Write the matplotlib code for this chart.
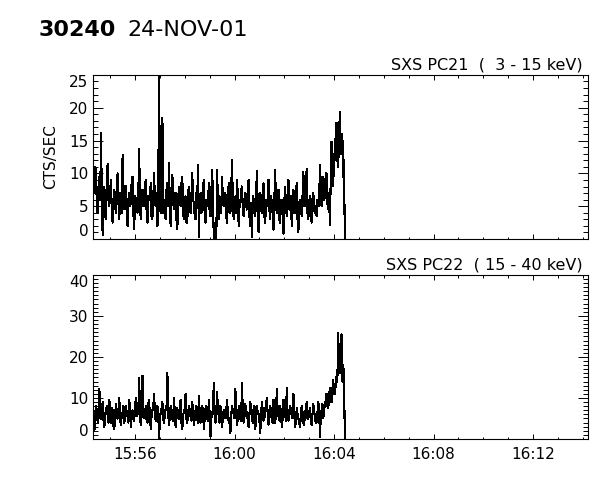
import numpy as np
import matplotlib
matplotlib.use("Agg")
import matplotlib.pyplot as plt
from matplotlib.ticker import MultipleLocator, FuncFormatter

# ---------------- data ----------------
obs_id = "30240"
obs_date = "24-NOV-01"
panel_titles = ["SXS PC21  (  3 - 15 keV)", "SXS PC22  ( 15 - 40 keV)"]
y_label = "CTS/SEC"

start_minute = 954.3          # 15:54:18, minutes since midnight
bin_minutes = 2.0 / 60.0      # 2 s bins
x_range = (954.31, 974.21)    # 15:54:18 .. 16:14:13
x_major_ticks = [956, 960, 964, 968, 972]   # 15:56 .. 16:12
y_ranges = [(0, 25), (0, 40)]
y_major_steps = [5, 10]

pc21 = [12.5, 9, 7, 11, 10, 4.5, 4, 8, 9.5, 6, 16.2, 5, 0.6, 7, 8, 3.5, 3, 9, 11.5, 6,
        5, 7.5, 9, 4, 2.5, 6, 7.5, 5, 4, 8.5, 10, 5.5, 3, 7, 6.5, 4, 12.8, 6, 4.5, 8,
        8, 3.5, 2, 6, 7, 5, 5.5, 9, 9.5, 4, 1.5, 6.5, 6, 5, 4, 7, 13.7, 4.5, 3, 6,
        7.5, 5, 5, 8, 9, 4, 2.5, 6.5, 6, 7, 8.5, 3, 3.5, 6, 10, 5.5, 5, 7, 2, 6,
        27, 5, 4, 6.5, 18.5, 4, 6, 3.5, 3, 7.5, 8.5, 5, 11.6, 4, 2, 6, 9.8, 5.5, 4.5, 7,
        7, 3, 1.5, 6, 8, 5.5, 5, 8.5, 9.5, 4, 3, 6, 6.5, 2.5, 2.5, 7, 8, 5, 4, 6.5,
        10, 6, 5.5, 3.5, 3, 7, 6, 11.3, 0.3, 5.5, 7, 4, 4.5, 8, 9, 3.5, 2.5, 6, 6, 5,
        8.5, 4, 3.5, 7, 10.5, 6, 0, 0, 0, 0, 10.5, 5, 3, 6.5, 6, 4, 9.5, 5.5, 5, 7,
        7, 3.5, 2.5, 6, 8.5, 5, 4, 7.5, 12, 5, 3, 6, 6.5, 4, 9, 6.5, 2, 5, 5.5, 7.5,
        8, 4.5, 3.5, 6, 7, 5, 4.5, 8, 9, 3.5, 2, 5.5, 0.3, 6.5, 6, 4, 3.5, 7, 10.3, 5,
        1, 5.5, 7, 4.5, 4, 7.5, 8.5, 3.5, 2.5, 6, 6, 5, 9, 4.5, 3, 6.5, 5.5, 4, 1.4, 6,
        10.5, 5, 4, 6.5, 7.5, 3, 2.5, 6, 6, 4, 0.8, 5.5, 8, 5, 3.5, 7, 9, 4.5, 5, 6.5,
        2, 5, 7.5, 4, 4, 7, 8.5, 3, 1, 5.5, 6, 4.5, 3.5, 6.5, 10.2, 5, 5, 7.5, 10.7, 4,
        3, 5.5, 6.5, 4, 2.5, 6, 7, 4.5, 4, 5, 3.5, 6, 6, 5, 11.3, 7, 5, 9.5, 9, 6,
        6.5, 10, 10, 5.5, 4.5, 7, 2.1, 9, 14.8, 11, 8, 13, 12, 16, 17.7, 12, 11, 15, 19.4, 13,
        13.5, 16, 9.5, 12, 0]

pc22 = [10.3, 6, 2.2, 5, 8, 7, 4, 6.5, 12.2, 5, 5, 7, 9, 4.5, 3, 6, 7, 8, 5.5, 4,
        9.5, 6, 4, 7.5, 7, 3, 2.5, 6, 8.5, 5.5, 5, 7, 10, 4.5, 3.5, 6, 6.5, 8, 4, 5.5,
        8, 6.5, 5.5, 4, 9.5, 7, 3, 6, 7, 5, 4.5, 8, 10, 5.5, 6, 7, 14.9, 5, 3.5, 6,
        15.4, 7, 5, 6, 8, 4.5, 4, 8.5, 9.5, 5, 2.5, 6, 7, 8, 11, 6, 4.5, 5.5, 8, 6.5,
        0, 5, 6.5, 7.5, 9, 5, 4, 6, 7.5, 8, 16.2, 6, 3.5, 5.5, 8, 7, 5, 4.5, 10, 6,
        3, 6.5, 7.5, 5, 5, 8, 9.5, 4, 2.5, 6, 6.5, 7.5, 11, 5, 4, 6, 8, 7, 5.5, 4.5,
        9, 6, 3.5, 5, 7, 8, 5, 4, 10.5, 6.5, 4, 5.5, 8, 7, 2.5, 5, 7.5, 8, 5, 4.5,
        9.5, 6, 0.6, 5, 6, 7.5, 13.7, 5, 4, 6.5, 11.5, 7, 5.5, 4, 8, 7, 3, 5.5, 7, 6,
        5, 7, 9.5, 6, 4, 5, 1.5, 6, 8, 7, 6, 5, 12.2, 6.5, 3.5, 5, 7.5, 8, 5, 4.5,
        13.7, 6, 4, 5.5, 8.5, 7, 6, 4.5, 3, 6, 9, 7.5, 5, 4, 7.5, 8, 2.5, 5, 8, 6.5,
        6, 4.5, 1.5, 6, 9, 7, 4.5, 5, 7, 8.5, 10, 6, 3.5, 5, 8, 7, 5, 4, 9.5, 6.5,
        4, 6, 12.1, 7, 5.5, 4.5, 8, 6.5, 3, 5, 9.5, 7, 6, 4.5, 12.4, 6, 4.5, 5.5, 8, 7,
        6, 5, 11, 6.5, 3, 4, 7.5, 6, 5, 4, 3, 5.5, 8, 6.5, 4, 3.5, 6.5, 7, 9, 5,
        5, 6.5, 7.5, 4.5, 3.5, 6, 8.5, 7, 5, 4, 4, 6.5, 9, 7.5, 0.6, 5.5, 7, 8.5, 5, 7.5,
        8, 9.5, 11, 8, 7.5, 10, 12.5, 9.5, 9, 12, 14.5, 11, 11, 13, 15.2, 14, 25.8, 18, 16, 22,
        25.5, 14, 18, 16, 0]

series = [pc21, pc22]

# ---------------- figure ----------------
plt.rcParams["font.family"] = ["DejaVu Sans"]
fig = plt.figure(figsize=(6.0, 4.8), dpi=100)

ax_rects = [[0.155, 0.502, 0.825, 0.342],
            [0.155, 0.0854, 0.825, 0.342]]


def hhmm(v, pos=None):
    m = int(round(v))
    return f"{m // 60:02d}:{m % 60:02d}"


for k, vals in enumerate(series):
    ax = fig.add_axes(ax_rects[k])
    vals = np.asarray(vals, dtype=float)
    t = start_minute + bin_minutes * np.arange(len(vals))
    ax.plot(t, vals, color="black", lw=0.8, antialiased=False)
    ax.set_xlim(*x_range)
    ax.set_ylim(*y_ranges[k])
    ax.set_xticks(x_major_ticks)
    ax.xaxis.set_minor_locator(MultipleLocator(1))
    ax.yaxis.set_major_locator(MultipleLocator(y_major_steps[k]))
    ax.yaxis.set_minor_locator(MultipleLocator(1))
    ax.tick_params(which="both", direction="in", top=True, right=True,
                   colors="black", labelsize=11)
    ax.tick_params(axis="y", which="major", length=7.2, width=0.7)
    ax.tick_params(axis="y", which="minor", length=3.6, width=0.7)
    ax.tick_params(axis="x", which="major", length=3.6, width=0.7, pad=6)
    ax.tick_params(axis="x", which="minor", length=1.8, width=0.7)
    for s in ax.spines.values():
        s.set_linewidth(0.8)
    if k == 0:
        ax.set_xticklabels([])
        ax.set_ylabel(y_label, fontsize=11, labelpad=8)
    else:
        ax.xaxis.set_major_formatter(FuncFormatter(hhmm))
    ax.text(0.99, 1.012, panel_titles[k], transform=ax.transAxes,
            ha="right", va="bottom", fontsize=11.5)
    # keep end labels inside the axis span
    ticks = ax.yaxis.get_major_ticks()
    fig.canvas.draw()
    locs = ax.get_yticks()
    for tk, lv in zip(ticks, locs):
        if np.isclose(lv, y_ranges[k][0]):
            tk.label1.set_va("bottom")
        elif np.isclose(lv, y_ranges[k][1]):
            tk.label1.set_va("top")

fig.text(0.065, 0.9375, obs_id, fontsize=16, fontweight="bold", va="center")
fig.text(0.213, 0.9375, obs_date, fontsize=16, va="center")

fig.savefig("out.png", dpi=100)
